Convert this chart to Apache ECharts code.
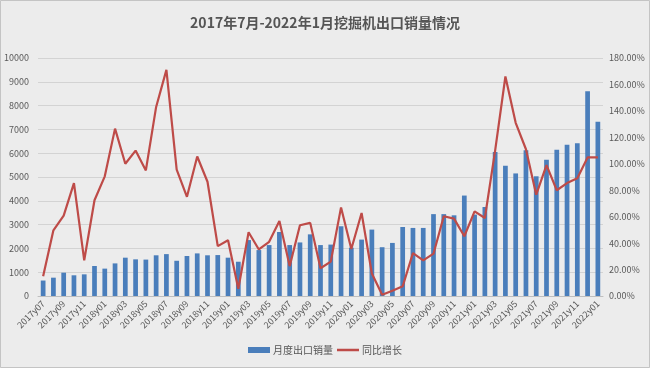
<!DOCTYPE html>
<html>
<head>
<meta charset="utf-8">
<script src="https://cdn.jsdelivr.net/npm/echarts@6/dist/echarts.min.js"></script>
<style>
html,body{margin:0;padding:0;background:#ececec;}
#c{width:650px;height:368px;}
</style>
</head>
<body>
<div id="c"></div>
<script>
const categories = ['2017y07','2017y08','2017y09','2017y10','2017y11','2017y12',
'2018y01','2018y02','2018y03','2018y04','2018y05','2018y06','2018y07','2018y08','2018y09','2018y10','2018y11','2018y12',
'2019y01','2019y02','2019y03','2019y04','2019y05','2019y06','2019y07','2019y08','2019y09','2019y10','2019y11','2019y12',
'2020y01','2020y02','2020y03','2020y04','2020y05','2020y06','2020y07','2020y08','2020y09','2020y10','2020y11','2020y12',
'2021y01','2021y02','2021y03','2021y04','2021y05','2021y06','2021y07','2021y08','2021y09','2021y10','2021y11','2021y12',
'2022y01'];
const salesVolume = [650,770,980,870,910,1260,1150,1370,1610,1540,1530,1710,1760,1480,1680,1790,1710,1720,1610,1440,
2350,1930,2140,2690,2140,2250,2590,2140,2160,2930,2030,2370,2790,2050,2230,2900,2860,2860,3440,3440,
3390,4220,3420,3740,6050,5470,5150,6120,5030,5730,6150,6350,6420,8600,7320];
const yoyGrowth = [15,49.7,60.8,85.4,27,72.4,90.5,126.6,100,110,95,143,171,95.5,75,105.5,86.4,37.7,42.2,5.5,
48.2,35.2,41,56.8,22.6,53.5,55.3,21,26,67,35.5,62.8,17,1,4,7.3,32.5,27,32,60.3,
58.5,45.2,64,59,110,166,131,111,76.6,99,80,85.4,89,104.8,104.8];
const leftTicks = {min:0, max:10000, interval:1000};
const rightTicks = {min:0, max:180, interval:20};

const chart = echarts.init(document.getElementById('c'), null, {renderer:'canvas'});
const font = '"Noto Sans CJK SC","Noto Sans",sans-serif';
chart.setOption({
  backgroundColor:'#ececec',
  animation:false,
  textStyle:{fontFamily:font},
  title:{text:'2017年7月-2022年1月挖掘机出口销量情况',left:'center',top:11,
    textStyle:{fontSize:14,fontWeight:'bold',color:'#555555',fontFamily:font}},
  graphic:[{type:'rect',shape:{x:0.5,y:0.5,width:649,height:367},style:{fill:'none',stroke:'#c4c4c4',lineWidth:1}}],
  legend:{bottom:8,left:'center',itemWidth:22,itemHeight:6,itemGap:4,
    textStyle:{fontSize:10,color:'#555555',padding:[0,0,0,-2]},
    data:[{name:'月度出口销量',icon:'rect'},{name:'同比增长',icon:'path://M0,0H44V5H0Z'}]},
  grid:{left:38,right:47,top:58,bottom:72},
  xAxis:{type:'category',data:categories,
    axisLine:{lineStyle:{color:'#bfbfbf',width:1}},
    axisTick:{show:false},
    axisLabel:{interval:1,rotate:45,fontSize:9,color:'#595959',margin:6}},
  yAxis:[
    {type:'value',min:leftTicks.min,max:leftTicks.max,interval:leftTicks.interval,
      axisLine:{show:false},axisTick:{show:false},
      axisLabel:{fontSize:9,color:'#595959',margin:9,formatter:v=>String(v)},
      splitLine:{lineStyle:{color:'#d3d3d3',width:1.2}}},
    {type:'value',min:rightTicks.min,max:rightTicks.max,interval:rightTicks.interval,
      axisLine:{show:false},axisTick:{show:false},
      axisLabel:{fontSize:9,color:'#595959',margin:6,formatter:v=>v.toFixed(2)+'%'},
      splitLine:{show:false}}
  ],
  series:[
    {name:'月度出口销量',type:'bar',data:salesVolume,barWidth:'46%',
      itemStyle:{color:'#4a7ebb'}},
    {name:'同比增长',type:'line',yAxisIndex:1,data:yoyGrowth,symbol:'none',
      lineStyle:{color:'#be4b48',width:2.2},itemStyle:{color:'#be4b48'}}
  ]
});
</script>
</body>
</html>
